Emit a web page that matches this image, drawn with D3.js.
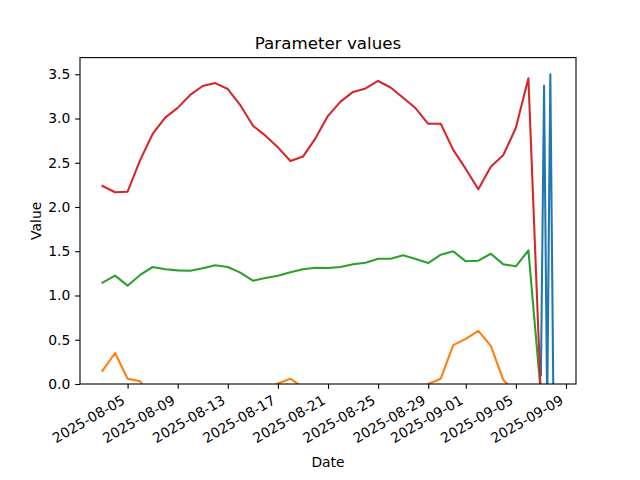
<!DOCTYPE html>
<html>
<head>
<meta charset="utf-8">
<script src="https://cdn.jsdelivr.net/npm/d3@7"></script>
<style>
  html, body { margin: 0; padding: 0; background: #fff; }
  svg { display: block; font-family: "DejaVu Sans", sans-serif; }
</style>
</head>
<body>
<svg id="chart" width="640" height="480"></svg>
<script>
// ---- data ----
const dailyDates = ["2025-08-03","2025-08-04","2025-08-05","2025-08-06","2025-08-07","2025-08-08",
  "2025-08-09","2025-08-10","2025-08-11","2025-08-12","2025-08-13","2025-08-14","2025-08-15",
  "2025-08-16","2025-08-17","2025-08-18","2025-08-19","2025-08-20","2025-08-21","2025-08-22",
  "2025-08-23","2025-08-24","2025-08-25","2025-08-26","2025-08-27","2025-08-28","2025-08-29",
  "2025-08-30","2025-08-31","2025-09-01","2025-09-02","2025-09-03","2025-09-04","2025-09-05",
  "2025-09-06","2025-09-07"];

const orangeValues = [0.15,0.35,0.06,0.03,-0.18,-0.22,-0.25,-0.20,-0.15,-0.12,-0.18,-0.22,-0.16,
  -0.08,0.005,0.06,-0.04,-0.12,-0.20,-0.24,-0.26,-0.22,-0.18,-0.20,-0.15,-0.10,0.0,
  0.06,0.44,0.51,0.60,0.43,0.045,-0.10,-0.20,-0.15];

const greenValues = [1.145,1.224,1.111,1.232,1.322,1.296,1.284,1.280,1.307,1.341,1.322,1.258,1.167,
  1.198,1.224,1.262,1.296,1.314,1.310,1.322,1.352,1.371,1.416,1.416,1.454,1.412,1.367,
  1.461,1.499,1.386,1.393,1.472,1.352,1.330,1.510,-0.12];

const redValues = [2.237,2.166,2.173,2.53,2.825,3.01,3.12,3.266,3.367,3.40,3.333,3.15,2.92,
  2.806,2.674,2.52,2.57,2.776,3.03,3.19,3.30,3.34,3.424,3.35,3.235,3.115,2.94,
  2.94,2.645,2.43,2.20,2.455,2.587,2.896,3.454,-0.15];

const blueDates = ["2025-09-07T00:00","2025-09-07T06:00","2025-09-07T12:00","2025-09-07T18:00","2025-09-08T00:00"];
const blueValues = [0.10,3.37,-0.26,3.50,-0.26];

const xTickLabels = ["2025-08-05","2025-08-09","2025-08-13","2025-08-17","2025-08-21",
  "2025-08-25","2025-08-29","2025-09-01","2025-09-05","2025-09-09"];
const yTickValues = [0.0,0.5,1.0,1.5,2.0,2.5,3.0,3.5];

const colors = { blue: "#1f77b4", orange: "#ff7f0e", green: "#2ca02c", red: "#d62728" };

// ---- layout ----
const W = 640, H = 480;
const pL = 80, pR = 576, pT = 57.6, pB = 384;
const parse = s => new Date(s.length > 10 ? s + ":00Z" : s + "T00:00:00Z");

const xMin = parse("2025-08-03").getTime(), xMax = parse("2025-09-08").getTime();
const xPad = (xMax - xMin) * 0.05;
const x = d3.scaleUtc().domain([new Date(xMin - xPad), new Date(xMax + xPad)]).range([pL, pR]);
const y = d3.scaleLinear().domain([0, 3.688]).range([pB, pT]);

const svg = d3.select("#chart");

svg.append("defs").append("clipPath").attr("id", "clip")
  .append("rect").attr("x", pL).attr("y", pT).attr("width", pR - pL).attr("height", pB - pT);

const series = [
  { dates: blueDates, values: blueValues, color: colors.blue },
  { dates: dailyDates, values: orangeValues, color: colors.orange },
  { dates: dailyDates, values: greenValues, color: colors.green },
  { dates: dailyDates, values: redValues, color: colors.red }
];

const line = d3.line().x(d => x(d[0])).y(d => y(d[1]));
const g = svg.append("g").attr("clip-path", "url(#clip)");
series.forEach(s => {
  const pts = s.dates.map((d, i) => [parse(d), s.values[i]]);
  g.append("path").datum(pts).attr("d", line)
    .attr("fill", "none").attr("stroke", s.color).attr("stroke-width", 2.08)
    .attr("stroke-linejoin", "round").attr("stroke-linecap", "square");
});

// ---- axes ----
const tickLen = 4.86, fs = 13.9;
const xAxis = d3.axisBottom(x).tickValues(xTickLabels.map(parse)).tickSize(tickLen).tickFormat("");
const xg = svg.append("g").attr("transform", `translate(0,${pB})`).call(xAxis);
xg.select(".domain").remove();
xg.selectAll("line").attr("stroke", "#000").attr("stroke-width", 1.1);

const labelTop = pB + tickLen + 4.86;
const hBox = 14.0;
xTickLabels.forEach(t => {
  const tx = x(parse(t));
  svg.append("text")
    .attr("transform", `translate(${tx},${labelTop + hBox * Math.cos(Math.PI/6)}) rotate(-30)`)
    .attr("text-anchor", "end").attr("dy", -3.2)
    .attr("font-size", fs).attr("fill", "#000").text(t);
});

const yAxis = d3.axisLeft(y).tickValues(yTickValues).tickSize(tickLen).tickPadding(4.86)
  .tickFormat(d3.format(".1f"));
const yg = svg.append("g").attr("transform", `translate(${pL},0)`).call(yAxis);
yg.select(".domain").remove();
yg.selectAll("line").attr("stroke", "#000").attr("stroke-width", 1.1);
yg.selectAll("text").attr("font-size", fs).attr("font-family", "DejaVu Sans").attr("fill", "#000").attr("dy", "0.32em");

// spines
svg.append("rect").attr("x", pL).attr("y", pT).attr("width", pR - pL).attr("height", pB - pT)
  .attr("fill", "none").attr("stroke", "#000").attr("stroke-width", 1.1);

// titles
svg.append("text").attr("x", (pL + pR) / 2).attr("y", 49.3).attr("text-anchor", "middle")
  .attr("font-size", 16.7).attr("fill", "#000").text("Parameter values");
svg.append("text").attr("x", (pL + pR) / 2).attr("y", 467).attr("text-anchor", "middle")
  .attr("font-size", fs).attr("fill", "#000").text("Date");
svg.append("text").attr("transform", `translate(41,${(pT + pB) / 2}) rotate(-90)`)
  .attr("text-anchor", "middle").attr("font-size", fs).attr("fill", "#000").text("Value");
</script>
</body>
</html>
